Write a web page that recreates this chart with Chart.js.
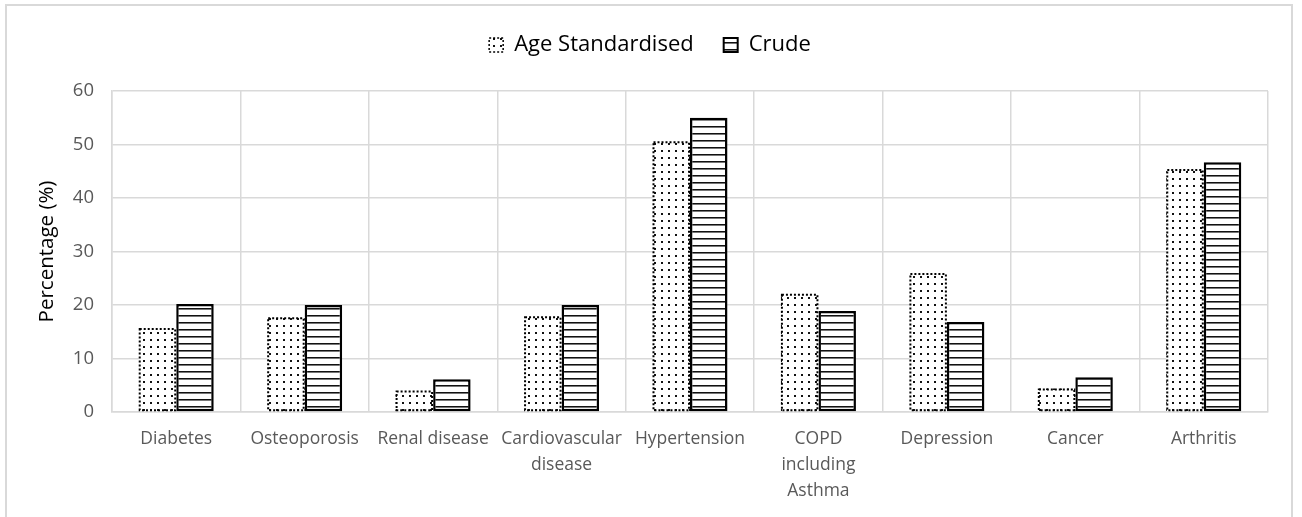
<!DOCTYPE html>
<html>
<head>
<meta charset="utf-8">
<script src="https://cdn.jsdelivr.net/npm/chart.js@4.4.1/dist/chart.umd.min.js"></script>
<style>
  html, body { margin: 0; padding: 0; background: #fff; overflow: hidden; }
  #wrap { position: relative; width: 1302px; height: 517px; }
  #frame { position: absolute; left: 5px; top: 4px; width: 1284px; height: 600px; border: 2px solid #d9d9d9; pointer-events: none; }
</style>
</head>
<body>
<div id="wrap">
  <canvas id="c" width="1302" height="517"></canvas>
  <div id="frame"></div>
</div>
<script>
const categories = ['Diabetes', 'Osteoporosis', 'Renal disease', ['Cardiovascular', 'disease'], 'Hypertension', ['COPD', 'including', 'Asthma'], 'Depression', 'Cancer', 'Arthritis'];
const ageStandardised = [15.7, 17.7, 4.0, 17.9, 50.6, 22.1, 26.0, 4.4, 45.4];
const crude = [20.2, 20.0, 6.1, 20.0, 55.0, 18.9, 16.8, 6.5, 46.7];
const seriesNames = ['Age Standardised', 'Crude'];
const yTicks = [0, 10, 20, 30, 40, 50, 60];

function makePattern(w, h, drawFn) {
  const cv = document.createElement('canvas');
  cv.width = w; cv.height = h;
  const g = cv.getContext('2d');
  g.fillStyle = '#fff';
  g.fillRect(0, 0, w, h);
  drawFn(g);
  return g.createPattern(cv, 'repeat');
}
const dotPattern = makePattern(7, 7, g => {
  g.fillStyle = '#111';
  g.fillRect(3, 3, 2, 2);
});
const linePattern = makePattern(8, 7, g => {
  g.fillStyle = '#111';
  g.fillRect(0, 0, 8, 1);
  g.fillStyle = '#777';
  g.fillRect(0, 1, 8, 1);
});

const dottedBorder = {
  id: 'dottedBorder',
  afterDatasetsDraw(chart) {
    const meta = chart.getDatasetMeta(0);
    const ctx = chart.ctx;
    ctx.save();
    ctx.strokeStyle = '#000';
    ctx.lineWidth = 2;
    ctx.setLineDash([2, 2]);
    meta.data.forEach(el => {
      const p = el.getProps(['x', 'y', 'base', 'width'], true);
      const l = p.x - p.width / 2 + 1, r = p.x + p.width / 2 - 1;
      ctx.strokeRect(l, p.y + 1, r - l, p.base - p.y - 2);
    });
    ctx.restore();
  }
};

const tickFont = { family: "'Open Sans', sans-serif", size: 17.5, lineHeight: 1.49 };

new Chart(document.getElementById('c'), {
  type: 'bar',
  data: {
    labels: categories,
    datasets: [
      { label: seriesNames[0], data: ageStandardised, backgroundColor: dotPattern, borderWidth: 0, categoryPercentage: 0.584, barPercentage: 1 },
      { label: seriesNames[1], data: crude, backgroundColor: linePattern, borderColor: '#000', borderWidth: 2.5, borderSkipped: false, categoryPercentage: 0.584, barPercentage: 1 }
    ]
  },
  plugins: [dottedBorder],
  options: {
    responsive: false,
    animation: false,
    events: [],
    layout: { padding: { left: 32, right: 34, top: 4, bottom: 0 } },
    plugins: {
      tooltip: { enabled: false },
      legend: {
        position: 'top',
        weight: 3000,
        labels: {
          boxWidth: 14, boxHeight: 14, padding: 30,
          color: '#000',
          font: { family: "'Open Sans', sans-serif", size: 22 },
          generateLabels(chart) {
            return chart.data.datasets.map((ds, i) => ({
              text: ds.label,
              fillStyle: ds.backgroundColor,
              strokeStyle: '#000',
              lineWidth: i === 0 ? 1.5 : 2,
              lineDash: i === 0 ? [2, 2] : [],
              datasetIndex: i,
              hidden: false
            }));
          }
        }
      },
      title: {
        display: true,
        text: ' ',
        position: 'top',
        weight: 2000,
        font: { size: 10, lineHeight: 1 },
        padding: { top: 0, bottom: 15 }
      }
    },
    scales: {
      x: {
        grid: { color: '#d9d9d9', lineWidth: 1.5, drawTicks: false, offset: true },
        border: { color: '#d9d9d9', width: 1.5 },
        ticks: { color: '#595959', font: tickFont, padding: 14, maxRotation: 0, autoSkip: false },
        afterFit(s) { s.height = 105; }
      },
      y: {
        min: 0, max: 60,
        afterBuildTicks(s) { s.ticks = yTicks.map(v => ({ value: v })); },
        grid: { color: '#d9d9d9', lineWidth: 1.5, drawTicks: false },
        border: { color: '#d9d9d9', width: 1.5 },
        ticks: { color: '#595959', font: { family: "'Open Sans', sans-serif", size: 18.5 }, padding: 18 },
        title: { display: true, text: 'Percentage (%)', color: '#000', font: { family: "'Open Sans', sans-serif", size: 20.5 }, padding: { top: 3, bottom: 0 } },
        afterFit(s) { s.width = 80; }
      }
    }
  }
});
</script>
</body>
</html>
